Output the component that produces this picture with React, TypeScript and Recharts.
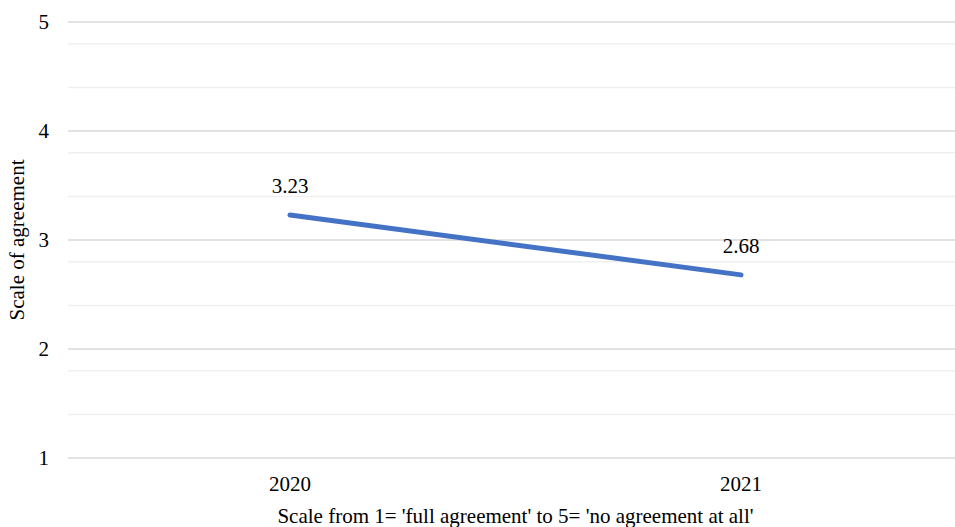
import React from 'react';
import { LineChart, Line, XAxis, YAxis, CartesianGrid, LabelList, Label } from 'recharts';

const years = ['2020', '2021'];
const agreement = [3.23, 2.68];
const majorTicks = [1, 2, 3, 4, 5];
const minorTicks = [1.2, 1.4, 1.6, 1.8, 2.2, 2.4, 2.6, 2.8, 3.2, 3.4, 3.6, 3.8, 4.2, 4.4, 4.6, 4.8];

const data = years.map((year, i) => ({ year, value: agreement[i] }));

const serif = "'Liberation Serif', 'Times New Roman', serif";

const SerifTick = (props: any) => {
  const { x, y, payload, textAnchor, verticalAnchor } = props;
  const dy = verticalAnchor === 'start' ? '0.71em' : '0.355em';
  return (
    <text x={x} y={y} dy={dy} textAnchor={textAnchor} style={{ fontFamily: serif, fontSize: 21, fill: '#000' }}>
      {payload.value}
    </text>
  );
};

const ValueLabel = (props: any) => {
  const { x, y, value } = props;
  return (
    <text x={x} y={y - 22} textAnchor="middle" style={{ fontFamily: serif, fontSize: 21, fill: '#000' }}>
      {value}
    </text>
  );
};

export default function App() {
  return (
    <div
      style={{
        position: 'absolute',
        left: 0,
        top: 0,
        width: 955,
        height: 527,
        overflow: 'hidden',
        background: '#fff',
      }}
    >
      <LineChart width={963} height={527} data={data} margin={{ top: 22, right: 0, bottom: 0, left: 0 }}>
        <CartesianGrid vertical={false} horizontalValues={minorTicks} stroke="#f0f0f0" strokeWidth={1.5} />
        <CartesianGrid vertical={false} horizontalValues={majorTicks} stroke="#d9d9d9" strokeWidth={1.5} />
        <XAxis
          dataKey="year"
          axisLine={false}
          tickLine={false}
          height={69}
          tickMargin={12}
          padding={{ left: 222, right: 222 }}
          tick={<SerifTick />}
        >
          <Label
            value="Scale from 1= 'full agreement' to 5= 'no agreement at all'"
            position="insideBottom"
            offset={4}
            style={{ fill: '#000', fontSize: 21, fontFamily: serif }}
          />
        </XAxis>
        <YAxis
          domain={[1, 5]}
          ticks={majorTicks}
          axisLine={false}
          tickLine={false}
          width={68}
          tickMargin={13}
          tick={<SerifTick />}
        >
          <Label
            value="Scale of agreement"
            angle={-90}
            position="insideLeft"
            offset={17}
            style={{ fill: '#000', fontSize: 21, fontFamily: serif, textAnchor: 'middle' }}
          />
        </YAxis>
        <Line
          type="linear"
          dataKey="value"
          stroke="#4472c4"
          strokeWidth={5}
          strokeLinecap="round"
          dot={false}
          activeDot={false}
          isAnimationActive={false}
        >
          <LabelList dataKey="value" content={<ValueLabel />} />
        </Line>
      </LineChart>
    </div>
  );
}
